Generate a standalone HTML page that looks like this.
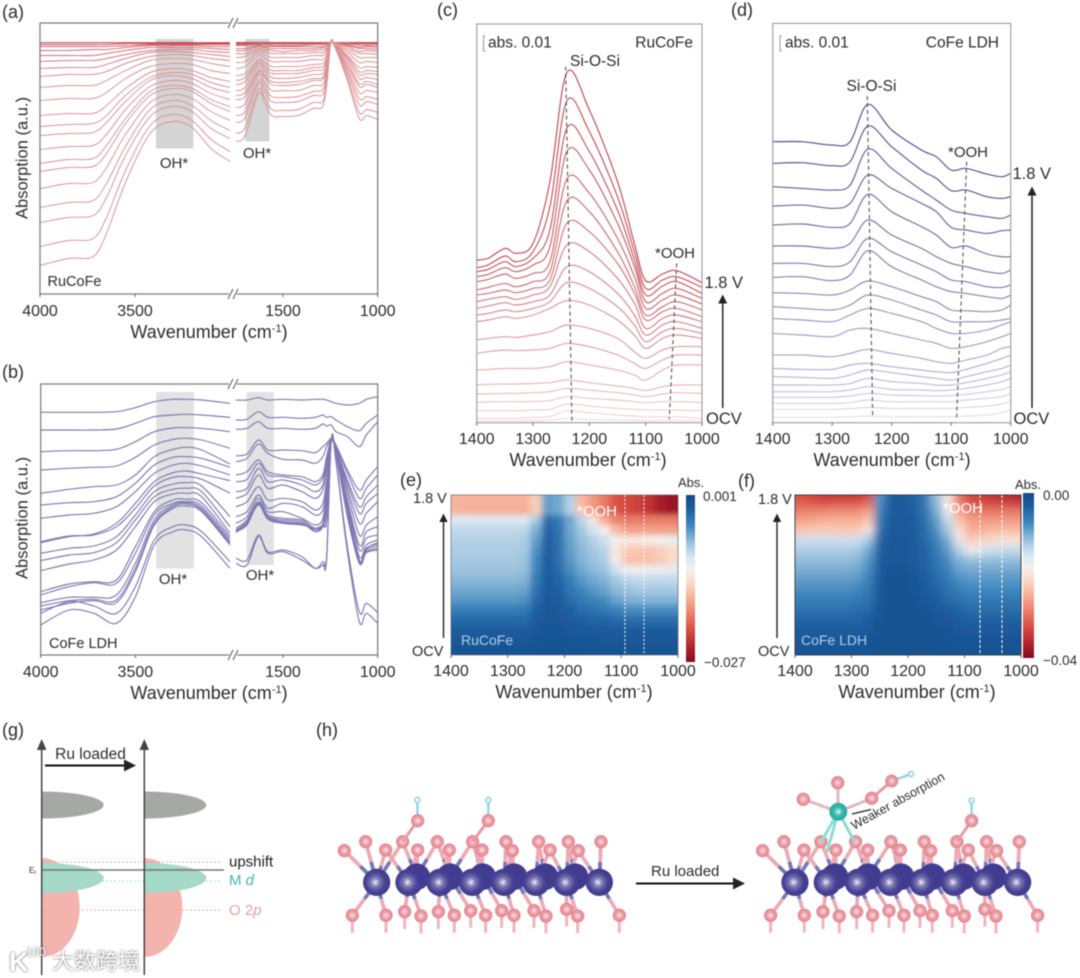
<!DOCTYPE html>
<html lang="en">
<head>
<meta charset="utf-8">
<title>FTIR spectra, heatmaps and band schematic of RuCoFe and CoFe LDH</title>
<style>
html,body{margin:0;padding:0;background:#fff}
#figure{display:block;filter:blur(.5px)}
text{font-family:"Liberation Sans","Noto Sans CJK SC",sans-serif;fill:#2c2c2c}
</style>
</head>
<body>
<svg id="figure" xmlns="http://www.w3.org/2000/svg" width="1080" height="978" viewBox="0 0 1080 978">
<defs>
  <filter id="heat-blur-e" x="-10%" y="-10%" width="120%" height="120%"><feGaussianBlur stdDeviation="3.4 2.8"/></filter>
  <filter id="heat-blur-f" x="-10%" y="-10%" width="120%" height="120%"><feGaussianBlur stdDeviation="4.2 4.6"/></filter>
  <clipPath id="clip-e"><rect x="451" y="495" width="227" height="160"/></clipPath>
  <clipPath id="clip-f"><rect x="795" y="495" width="226" height="160"/></clipPath>
  <radialGradient id="ball-grad" cx="45%" cy="50%" r="55%"><stop offset="0" stop-color="#eeeef6"/><stop offset=".3" stop-color="#7c78b4"/><stop offset=".65" stop-color="#474293"/><stop offset="1" stop-color="#3f3a8c"/></radialGradient>
  <radialGradient id="o-grad" cx="50%" cy="50%" r="55%"><stop offset="0" stop-color="#fbe9ea"/><stop offset=".45" stop-color="#ee9fa8"/><stop offset="1" stop-color="#df7f8c"/></radialGradient>
  <radialGradient id="ru-grad" cx="50%" cy="50%" r="55%"><stop offset="0" stop-color="#d8f4f0"/><stop offset=".45" stop-color="#33b9b0"/><stop offset="1" stop-color="#25a8a2"/></radialGradient>
  <marker id="arrow-head" markerWidth="7" markerHeight="7" refX="5" refY="3" orient="auto" markerUnits="strokeWidth"><path d="M0,0 L6,3 L0,6 Z" fill="#222"/></marker>
</defs>

<!-- panel (a) -->
<g id="panel-a">
  <text x="2" y="18" font-size="18">(a)</text>
  <g id="a-bands"></g>
  <g id="a-traces"></g>
  <rect x="40" y="23" width="337.7" height="271" fill="none" stroke="#777" stroke-width="1.2"/>
  <g id="a-break"></g>
  <g id="a-ticks"></g>
  <text x="174" y="168" font-size="15" text-anchor="middle">OH*</text>
  <text x="257" y="158" font-size="15" text-anchor="middle">OH*</text>
  <text x="47.5" y="286" font-size="14.5">RuCoFe</text>
  <text x="209" y="338" font-size="18" text-anchor="middle">Wavenumber (cm<tspan dy="-6" font-size="11">-1</tspan><tspan dy="6">)</tspan></text>
  <text transform="translate(27.5,158) rotate(-90)" font-size="16.5" text-anchor="middle">Absorption (a.u.)</text>
</g>

<!-- panel (b) -->
<g id="panel-b">
  <text x="2" y="378" font-size="18">(b)</text>
  <g id="b-bands"></g>
  <g id="b-traces"></g>
  <rect x="40.7" y="384" width="337" height="271" fill="none" stroke="#777" stroke-width="1.2"/>
  <g id="b-break"></g>
  <g id="b-ticks"></g>
  <text x="173" y="584" font-size="15" text-anchor="middle">OH*</text>
  <text x="260" y="580" font-size="15" text-anchor="middle">OH*</text>
  <text x="49" y="648" font-size="14.5">CoFe LDH</text>
  <text x="209" y="699" font-size="18" text-anchor="middle">Wavenumber (cm<tspan dy="-6" font-size="11">-1</tspan><tspan dy="6">)</tspan></text>
  <text transform="translate(27.5,518) rotate(-90)" font-size="16.5" text-anchor="middle">Absorption (a.u.)</text>
</g>

<!-- panel (c) -->
<g id="panel-c">
  <text x="437" y="16" font-size="18">(c)</text>
  <g id="c-traces"></g>
  <g id="c-guides"></g>
  <rect x="476.7" y="24" width="225.3" height="398.7" fill="none" stroke="#9a9a9a" stroke-width="1.1"/>
  <g id="c-ticks"></g>
  <path d="M485.5,36 H483.5 V51 H485.5" fill="none" stroke="#999"/>
  <text x="488" y="47.5" font-size="15.5">abs. 0.01</text>
  <text x="693" y="47.5" font-size="15.5" text-anchor="end">RuCoFe</text>
  <text x="570" y="66" font-size="15.5">Si-O-Si</text>
  <text x="655" y="258" font-size="15">*OOH</text>
  <text x="704.5" y="288" font-size="16.5">1.8 V</text>
  <text x="706" y="424" font-size="16.5">OCV</text>
  <line x1="722.7" y1="408" x2="722.7" y2="296" stroke="#222" stroke-width="1.5" marker-end="url(#arrow-head)"/>
  <text x="588" y="466" font-size="18" text-anchor="middle">Wavenumber (cm<tspan dy="-6" font-size="11">-1</tspan><tspan dy="6">)</tspan></text>
</g>

<!-- panel (d) -->
<g id="panel-d">
  <text x="731" y="16" font-size="18">(d)</text>
  <g id="d-traces"></g>
  <g id="d-guides"></g>
  <rect x="772.7" y="23.4" width="238" height="399.3" fill="none" stroke="#9a9a9a" stroke-width="1.1"/>
  <g id="d-ticks"></g>
  <path d="M782,36 H780 V51 H782" fill="none" stroke="#999"/>
  <text x="785" y="47.5" font-size="15.5">abs. 0.01</text>
  <text x="999" y="47.5" font-size="15.5" text-anchor="end">CoFe LDH</text>
  <text x="846.5" y="91" font-size="15.5">Si-O-Si</text>
  <text x="948" y="157" font-size="15">*OOH</text>
  <text x="1012.5" y="179" font-size="16.5">1.8 V</text>
  <text x="1013.5" y="424" font-size="16.5">OCV</text>
  <line x1="1032" y1="408" x2="1032" y2="188" stroke="#222" stroke-width="1.5" marker-end="url(#arrow-head)"/>
  <text x="892" y="466" font-size="18" text-anchor="middle">Wavenumber (cm<tspan dy="-6" font-size="11">-1</tspan><tspan dy="6">)</tspan></text>
</g>

<!-- panel (e) -->
<g id="panel-e">
  <text x="400" y="486" font-size="18">(e)</text>
  <g clip-path="url(#clip-e)"><g id="e-cells" filter="url(#heat-blur-e)"></g></g>
  <line x1="625" y1="495" x2="625" y2="655" stroke="#fff" stroke-dasharray="2 2"/>
  <line x1="644" y1="495" x2="644" y2="655" stroke="#fff" stroke-dasharray="2 2"/>
  <rect x="451" y="495" width="227" height="160" fill="none" stroke="#556" stroke-width=".6"/>
  <text x="577" y="516" font-size="15" style="fill:#fff">*OOH</text>
  <text x="461" y="645" font-size="14" style="fill:#a9cfe8">RuCoFe</text>
  <g id="e-ticks"></g>
  <g id="e-bar"></g>
  <text x="678" y="487" font-size="13">Abs.</text>
  <text x="703" y="501" font-size="13.5">0.001</text>
  <text x="704" y="667" font-size="13.5">−0.027</text>
  <text x="413" y="503" font-size="14.5">1.8 V</text>
  <text x="412" y="656" font-size="14.5">OCV</text>
  <line x1="443.5" y1="638" x2="443.5" y2="515" stroke="#222" stroke-width="1.4" marker-end="url(#arrow-head)"/>
  <text x="574" y="698" font-size="18" text-anchor="middle">Wavenumber (cm<tspan dy="-6" font-size="11">-1</tspan><tspan dy="6">)</tspan></text>
</g>

<!-- panel (f) -->
<g id="panel-f">
  <text x="738" y="487" font-size="18">(f)</text>
  <g clip-path="url(#clip-f)"><g id="f-cells" filter="url(#heat-blur-f)"></g></g>
  <line x1="980" y1="495" x2="980" y2="655" stroke="#fff" stroke-dasharray="3 2"/>
  <line x1="1002" y1="495" x2="1002" y2="655" stroke="#fff" stroke-dasharray="3 2"/>
  <rect x="795" y="495" width="226" height="160" fill="none" stroke="#334" stroke-width=".9"/>
  <text x="943" y="513" font-size="15" style="fill:#fff">*OOH</text>
  <text x="801" y="645" font-size="14" style="fill:#a9cfe8">CoFe LDH</text>
  <g id="f-ticks"></g>
  <g id="f-bar"></g>
  <text x="1015" y="489" font-size="13">Abs.</text>
  <text x="1043" y="500" font-size="13.5">0.00</text>
  <text x="1043" y="665" font-size="13.5">−0.04</text>
  <text x="758" y="504" font-size="14.5">1.8 V</text>
  <text x="758" y="656" font-size="14.5">OCV</text>
  <line x1="777" y1="638" x2="777" y2="515" stroke="#222" stroke-width="1.4" marker-end="url(#arrow-head)"/>
  <text x="917" y="698" font-size="18" text-anchor="middle">Wavenumber (cm<tspan dy="-6" font-size="11">-1</tspan><tspan dy="6">)</tspan></text>
</g>

<!-- panel (g) -->
<g id="panel-g">
  <text x="2" y="736" font-size="18">(g)</text>
  <path d="M41.7,858 A38,49.5 0 0 1 41.7,957 Z" fill="#f3b4ad"/>
  <path d="M144.3,858 A38,49.5 0 0 1 144.3,957 Z" fill="#f3b4ad"/>
  <path d="M41.7,791.5 A62,13.5 0 0 1 41.7,818.5 Z" fill="#a4a9a6"/>
  <path d="M144.3,791.5 A62,13.5 0 0 1 144.3,818.5 Z" fill="#a4a9a6"/>
  <path d="M41.7,863 A62,15 0 0 1 41.7,893 Z" fill="#a5d9c8"/>
  <path d="M144.3,863 A62,15 0 0 1 144.3,893 Z" fill="#a5d9c8"/>
  <line x1="42" y1="862" x2="222" y2="862" stroke="#e6a8a4" stroke-dasharray="2 2"/>
  <line x1="42" y1="881" x2="222" y2="881" stroke="#a5dcd2" stroke-dasharray="2 2"/>
  <line x1="42" y1="910" x2="222" y2="910" stroke="#eda8a2" stroke-dasharray="2 2"/>
  <line x1="41.7" y1="870" x2="224" y2="870" stroke="#777" stroke-width="1.4"/>
  <line x1="41.7" y1="975" x2="41.7" y2="745" stroke="#444" stroke-width="1.5"/>
  <line x1="144.3" y1="975" x2="144.3" y2="745" stroke="#444" stroke-width="1.5"/>
  <path d="M41.7,739 L46.5,750 L36.9,750 Z" fill="#444"/>
  <path d="M144.3,739 L149,750 L139.5,750 Z" fill="#444"/>
  <text x="90.5" y="759" font-size="15.5" text-anchor="middle">Ru loaded</text>
  <line x1="45" y1="765.5" x2="134" y2="765.5" stroke="#111" stroke-width="2" marker-end="url(#arrow-head)"/>
  <text x="29" y="873" font-size="8">E<tspan font-size="5" dy="1.5">f</tspan></text>
  <text x="229" y="866.5" font-size="15" style="fill:#222">upshift</text>
  <text x="229" y="885" font-size="15" style="fill:#40b8ac">M <tspan font-style="italic">d</tspan></text>
  <text x="229" y="915" font-size="15" style="fill:#e8a09a">O 2<tspan font-style="italic">p</tspan></text>
</g>

<!-- panel (h) -->
<g id="panel-h">
  <text x="316" y="736" font-size="18">(h)</text>
  <g id="mol-left" transform="translate(310,760) scale(.3333)"></g>
  <g id="mol-right" transform="translate(728.3,760) scale(.3333)"></g>
  <g id="ru-site"></g>
  <text x="651" y="876" font-size="15">Ru loaded</text>
  <line x1="636" y1="883.5" x2="743" y2="883.5" stroke="#111" stroke-width="2" marker-end="url(#arrow-head)"/>
  <text transform="translate(854,830) rotate(-29)" font-size="12.5">Weaker absorption</text>
  <line x1="852" y1="814" x2="871" y2="809.5" stroke="#222" stroke-width="1.3"/>
</g>

<!-- watermark -->
<g id="watermark" style="filter:drop-shadow(0 0 1.4px #555)">
  <text x="9" y="971" font-size="27" font-weight="bold" style="fill:#fff">K</text>
  <text x="26" y="956" font-size="12" style="fill:#fff">100</text>
  <text x="52" y="969" font-size="22" style="fill:#fff;font-family:'Liberation Sans','Noto Sans CJK SC',sans-serif">大数跨境</text>
</g>
</svg>

<script>
// ---------- Panel (a): RuCoFe wide-range spectra (depth below the 0 baseline, a.u.) ----------
const wavenumbersWideLeft = [4000,3850,3720,3650,3550,3420,3300,3200,3100,3000];
const wavenumbersARight = [1748,1700,1630,1600,1560,1500,1420,1340,1290,1268,1248,1230,1160,1097,1058,1000];
const seriesA = [
 [.2,.2,.2,.2,.2,.2,.2,.2,.2,.2, .1,.1,.1,.1,.1,.1,.1,.1,.1,.1,0,0,.1,.1,.1,.1],
 [2,2,2,2,1,1,1,1,1,1, 1,1,.5,.6,.7,.7,.7,.7,.6,.4,0,0,.4,.8,.7,.8],
 [4,4,4,4,3,2,2,2,2,2, 2,2,1,1,1.5,1.5,1.5,1.3,1.3,.8,0,0,.8,1.5,1.5,1.5],
 [8,8,7,7,5,3,3,3,4,4, 3,3,2,2,3,3,3,2,2,1,0,0,1,3,3,3],
 [13,13,13,11,8,5,5,5,6,7, 6,6,3,4,4,4,4,4,4,2,0,0,2,5,4,5],
 [19,18,18,16,12,8,7,7,9,10, 8,8,4,5,6,6,6,6,5,3,0,0,3,6,6,7],
 [26,25,25,22,16,10,9,10,12,14, 11,11,6,7,8,9,8,8,7,5,0,0,4,9,8,9],
 [34,32,32,29,21,14,12,13,16,18, 15,14,8,9,11,11,11,10,10,6,0,0,6,11,11,12],
 [45,43,43,38,28,18,16,17,21,24, 20,19,10,12,15,15,15,13,13,8,0,1,8,15,15,15],
 [58,56,56,50,36,24,21,22,28,31, 26,24,13,15,19,19,19,17,17,11,0,1,10,20,19,20],
 [73,71,71,63,46,30,26,28,35,39, 33,31,17,19,24,24,24,22,21,14,0,1,13,25,24,25],
 [84,82,81,73,53,35,30,32,40,45, 38,35,19,22,28,28,28,25,24,16,0,1,14,29,28,29],
 [93,91,90,80,59,38,33,36,45,50, 42,39,21,25,31,31,31,28,27,17,0,1,16,32,31,32],
 [107,104,103,92,67,44,38,41,51,57, 48,45,24,28,35,36,35,32,31,20,0,1,18,36,35,37],
 [121,117,116,103,76,49,43,46,57,64, 53,50,28,32,39,40,39,36,35,22,0,2,21,41,39,42],
 [129,125,124,111,81,53,46,49,61,69, 57,54,30,34,42,43,42,38,37,24,0,2,22,44,42,45],
 [146,141,140,125,92,60,52,56,69,78, 65,61,33,39,48,48,48,43,42,27,0,2,25,50,48,50],
 [165,160,158,141,104,67,58,63,78,88, 73,69,38,44,54,55,54,49,47,30,0,2,28,56,54,57],
 [180,175,173,155,113,74,64,69,86,96, 80,75,41,48,59,60,59,53,52,33,0,2,31,62,59,62],
 [204,198,196,175,128,83,72,78,97,109, 91,85,47,54,67,68,67,60,59,38,0,3,35,70,67,70],
 [223,216,214,191,140,91,79,85,106,119, 99,93,51,59,73,74,73,66,64,41,0,3,38,76,73,77]
];

// ---------- Panel (b): CoFe LDH wide-range spectra ----------
const wavenumbersBLeft = [4000,3850,3720,3600,3500,3400,3300,3230,3150,3000];
const wavenumbersBRight = [1748,1690,1630,1580,1500,1400,1330,1290,1270,1245,1220,1160,1097,1060,1000];
const seriesB = [
 [157,157,157,155,143,125,118,118,120,130, 120,120,113,120,118,120,118,118,120,125,130,135,130,118,110],
 [210,210,210,207,190,170,165,163,165,172, 180,178,155,172,172,175,172,165,172,170,180,200,212,190,165],
 [275,272,272,268,245,215,204,203,205,215, 208,205,185,205,205,208,205,192,198,195,215,230,260,225,185],
 [330,325,322,318,292,255,238,235,240,265, 287,282,240,270,270,272,278,260,250,235,255,330,390,360,320],
 [400,388,380,375,345,290,268,262,270,312, 305,295,252,280,298,300,310,290,260,240,262,340,415,385,345],
 [435,428,425,410,370,315,292,290,295,322, 345,335,300,335,345,350,365,345,290,240,265,360,440,410,375],
 [475,465,460,440,395,340,315,310,318,345, 365,358,310,345,350,360,375,355,300,240,268,370,460,430,400],
 [548,530,522,490,430,365,338,333,342,362, 395,385,325,365,360,375,395,375,310,240,270,385,490,460,425],
 [545,528,525,500,445,378,352,350,358,400, 415,400,345,385,375,395,415,390,330,240,272,400,525,495,470],
 [580,565,558,530,465,395,372,368,378,470, 440,425,380,420,415,425,450,430,360,240,275,420,555,515,500],
 [602,585,578,548,480,410,388,385,395,500, 470,455,405,445,430,440,465,450,380,240,275,430,570,535,525],
 [632,612,600,570,500,425,402,400,410,520, 490,470,415,455,455,475,495,475,390,240,275,440,590,555,540],
 [695,672,665,660,560,455,420,418,428,530, 505,480,425,465,475,480,505,490,400,240,278,450,600,565,548],
 [705,680,668,670,580,465,430,425,438,538, 510,485,430,470,480,485,510,495,410,240,278,455,605,565,552],
 [728,712,712,705,610,480,435,428,445,545, 512,490,430,472,485,490,515,500,440,240,278,460,610,570,558],
 [738,722,718,720,625,490,440,432,450,550, 515,495,432,475,488,492,510,500,470,240,280,465,610,575,565],
 [750,730,722,728,635,495,445,438,455,555, 518,490,435,478,490,495,505,495,480,240,282,470,610,578,570],
 [760,725,738,760,680,540,500,495,515,605, 595,600,525,575,570,590,625,605,590,240,300,560,755,730,758],
 [795,750,760,790,710,555,515,510,530,625, 610,615,530,580,575,600,625,615,600,240,305,575,785,760,790]
];

// ---------- Panel (c): RuCoFe 1400–1000 cm-1, trace offset included ----------
const wavenumbersC = [1400,1380,1350,1330,1300,1270,1240,1200,1150,1120,1100,1070,1045,1000];
const seriesC = [
 [780,775,745,760,730,545,218,330,545,730,842,822,812,848],
 [803,795,768,785,755,620,303,395,590,755,865,840,830,862],
 [815,808,785,800,775,690,385,455,630,780,885,858,845,880],
 [830,823,803,815,795,740,455,510,670,800,905,880,865,895],
 [845,838,822,835,820,785,537,580,715,830,925,900,885,912],
 [870,862,850,860,845,815,603,635,755,860,945,920,905,930],
 [885,880,870,878,865,840,670,695,790,880,960,935,925,950],
 [905,898,890,898,885,860,735,755,835,910,985,955,945,965],
 [925,918,908,915,905,885,800,815,880,945,1005,975,965,985],
 [945,940,930,935,925,905,848,865,920,975,1025,995,985,1000],
 [965,960,950,955,945,925,902,915,960,1005,1045,1015,1005,1015],
 [1020,1015,1010,1012,1005,995,975,985,1015,1055,1075,1050,1040,1040],
 [1060,1055,1050,1052,1050,1045,1030,1040,1065,1090,1105,1080,1065,1065],
 [1110,1108,1105,1105,1105,1100,1085,1095,1110,1125,1140,1110,1095,1095],
 [1155,1153,1152,1152,1150,1148,1140,1148,1158,1165,1172,1160,1155,1155],
 [1182,1181,1180,1180,1178,1175,1165,1170,1178,1185,1190,1182,1178,1180],
 [1207,1206,1205,1205,1204,1202,1190,1195,1200,1205,1208,1205,1205,1207],
 [1232,1232,1232,1232,1230,1228,1212,1218,1225,1228,1230,1230,1230,1232],
 [1255,1255,1255,1255,1252,1250,1232,1238,1245,1248,1250,1250,1250,1255],
 [1262,1262,1262,1262,1262,1260,1255,1258,1260,1260,1262,1262,1262,1262]
];
const guideSiOSiC = [[1242,200],[1231,1262]];
const guideOohC = [[1045,790],[1058,1258]];

// ---------- Panel (d): CoFe LDH 1400–1000 cm-1 ----------
const wavenumbersD = [1400,1350,1300,1270,1240,1200,1150,1125,1100,1075,1040,1015,1000];
const seriesD = [
 [425,425,435,425,313,390,450,470,510,505,522,530,520],
 [490,488,497,485,378,440,510,535,572,570,590,595,590],
 [560,565,570,555,447,505,570,600,630,640,650,655,645],
 [618,615,625,610,525,565,610,635,682,690,700,692,690],
 [675,672,682,670,583,635,680,705,742,738,762,770,770],
 [738,738,745,730,660,705,745,770,790,800,815,820,810],
 [790,790,800,785,715,755,795,815,840,845,860,862,855],
 [832,830,842,825,752,800,840,860,875,880,890,895,885],
 [878,880,885,870,843,860,890,905,930,932,935,930,915],
 [920,925,930,915,885,900,930,945,965,965,965,960,955],
 [955,960,965,945,925,940,965,985,1000,1000,990,975,965],
 [1000,1005,1010,990,985,1000,1020,1030,1045,1040,1025,1010,1000],
 [1065,1065,1070,1060,1048,1060,1075,1085,1090,1080,1065,1045,1040],
 [1105,1108,1108,1095,1090,1100,1110,1115,1118,1108,1090,1075,1065],
 [1130,1132,1135,1125,1110,1118,1130,1135,1140,1130,1115,1105,1095],
 [1155,1155,1155,1150,1135,1145,1150,1155,1155,1148,1135,1125,1115],
 [1175,1175,1175,1170,1160,1168,1170,1172,1170,1165,1155,1145,1135],
 [1192,1192,1192,1188,1180,1185,1187,1188,1187,1183,1175,1168,1160],
 [1210,1210,1210,1208,1200,1205,1205,1205,1205,1200,1195,1190,1180],
 [1228,1228,1228,1226,1222,1225,1225,1225,1225,1222,1218,1212,1205],
 [1252,1252,1252,1250,1248,1250,1250,1250,1250,1248,1245,1238,1230]
];
const guideSiOSiD = [[1241,288],[1232,1248]];
const guideOohD = [[1074,485],[1091,1255]];

// ---------- Tick labels ----------
const wideTickLeft = [4000,3500];
const wideTickRight = [1500,1000];
const zoomTicks = [1400,1300,1200,1100,1000];

// ---------- Panels (e)/(f): heat values, % of colour-bar range from top (0) to bottom (100) ----------
const heatWavenumbers = [1390,1370,1350,1330,1310,1290,1270,1250,1230,1210,1190,1170,1150,1130,1110,1090,1070,1050,1030,1010];
const heatE = [
 [61,61,61,61,61,61,61,55,22,24,32,60,66,72,80,82,84,88,94,96],
 [61,62,62,62,62,62,62,55,22,24,32,58,66,72,80,82,84,88,94,95],
 [38,38,38,38,38,38,38,30,12,15,24,33,48,62,70,72,72,72,72,72],
 [34,34,34,34,34,34,33,25,10,14,24,30,37,46,60,65,65,65,65,65],
 [32,32,32,32,32,32,31,22,9,13,23,28,32,36,44,48,47,46,44,42],
 [31,31,31,31,31,31,30,20,8,13,22,27,30,33,48,56,57,57,55,52],
 [30,30,30,30,30,30,29,18,8,13,21,26,29,31,46,58,59,58,56,52],
 [29,29,29,29,29,29,28,17,8,12,19,24,27,29,36,42,43,42,42,40],
 [27,27,27,27,27,27,26,15,7,10,16,21,24,26,30,33,34,34,34,34],
 [24,24,24,24,24,24,23,13,7,9,14,18,21,23,27,29,30,30,30,30],
 [21,21,21,21,21,21,20,11,6,8,12,15,17,19,23,25,26,26,26,26],
 [16,16,16,16,16,16,15,9,6,7,9,12,13,15,17,19,19,19,19,19],
 [11,11,11,11,11,11,11,8,6,6,8,9,10,10,11,12,12,12,12,12],
 [8,8,8,8,8,8,8,6,5,5,6,7,7,8,8,8,8,8,8,8],
 [6,6,6,6,6,6,6,5,4,4,5,5,5,6,6,6,6,6,6,6],
 [5,5,5,5,5,5,5,4,4,4,4,4,5,5,5,5,5,5,5,5]
];
const heatF = [
 [80,82,84,84,84,84,80,20,7,7,10,15,28,48,72,82,84,86,88,90],
 [72,72,72,70,70,70,66,18,7,7,9,14,25,42,65,72,74,74,74,74],
 [65,64,62,62,62,62,58,15,7,7,8,13,22,35,58,65,66,66,66,66],
 [58,56,56,56,57,56,48,13,7,7,8,12,20,30,50,62,62,60,60,60],
 [36,36,36,36,36,36,30,10,6,6,7,11,17,25,40,56,54,52,50,50],
 [31,31,31,31,31,30,24,9,6,6,7,10,15,22,32,44,38,36,35,35],
 [28,28,28,28,28,27,21,8,6,6,7,10,14,19,26,28,28,28,28,28],
 [25,25,25,25,25,24,19,7,5,5,6,9,13,17,23,24,24,24,24,24],
 [22,22,22,22,22,21,17,7,4,4,5,8,11,15,19,21,21,21,21,21],
 [19,19,19,19,19,18,15,6,4,4,5,7,10,13,16,18,18,18,18,18],
 [16,16,16,16,16,15,13,6,4,4,4,6,8,11,13,15,15,15,15,15],
 [13,13,13,13,13,12,11,5,4,4,4,5,6,8,10,12,12,12,12,12],
 [10,10,10,10,10,10,8,5,4,4,4,4,5,6,8,9,9,9,9,9],
 [8,8,8,8,8,8,7,4,4,4,4,4,4,5,6,7,7,7,7,7],
 [6,6,6,6,6,6,5,4,3,3,3,4,4,4,5,5,5,5,5,5],
 [5,5,5,5,5,5,5,4,3,3,3,3,4,4,4,4,4,4,4,4]
];
const colorStops = [0,8,18,30,38,45,52,60,70,82,92,100];
const colorValues = ['#134a87','#1c5c9e','#3d86bd','#a5c9e2','#dce8f2','#f4f0ee','#fbdccb','#f9b9a0','#ee8670','#d4483f','#b0202c','#7e0d1e'];

// ---------- helpers ----------
const NS = 'http://www.w3.org/2000/svg';
function add(parent, tag, attrs) {
  const el = document.createElementNS(NS, tag);
  for (const k in attrs) el.setAttribute(k, attrs[k]);
  parent.appendChild(el);
  return el;
}
function linear(d0, d1, r0, r1) { return v => r0 + (v - d0) * (r1 - r0) / (d1 - d0); }
function smoothPath(pts) {
  let d = 'M' + pts[0][0].toFixed(1) + ',' + pts[0][1].toFixed(1);
  for (let i = 0; i < pts.length - 1; i++) {
    const p0 = pts[Math.max(0, i - 1)], p1 = pts[i], p2 = pts[i + 1], p3 = pts[Math.min(pts.length - 1, i + 2)];
    d += 'C' + (p1[0] + (p2[0] - p0[0]) / 6).toFixed(1) + ',' + (p1[1] + (p2[1] - p0[1]) / 6).toFixed(1) + ' ' +
      (p2[0] - (p3[0] - p1[0]) / 6).toFixed(1) + ',' + (p2[1] - (p3[1] - p1[1]) / 6).toFixed(1) + ' ' +
      p2[0].toFixed(1) + ',' + p2[1].toFixed(1);
  }
  return d;
}
function mix(a, b, t) {
  const pa = [1, 3, 5].map(i => parseInt(a.substr(i, 2), 16)), pb = [1, 3, 5].map(i => parseInt(b.substr(i, 2), 16));
  return 'rgb(' + pa.map((c, i) => Math.round(c + (pb[i] - c) * t)).join(',') + ')';
}
function colorFor(v) {
  for (let i = 0; i < colorStops.length - 1; i++) {
    if (v <= colorStops[i + 1]) return mix(colorValues[i], colorValues[i + 1], (v - colorStops[i]) / (colorStops[i + 1] - colorStops[i]));
  }
  return colorValues[colorValues.length - 1];
}
function tick(group, x, yAxis, label, yText) {
  const t = add(group, 'line', {x1: x, x2: x, y1: yAxis, y2: yAxis + 3, stroke: '#666'});
  
  
  const l = add(group, 'text', {x: x, y: yText, 'font-size': 16, 'text-anchor': 'middle'});
  l.textContent = label;
  
  
}
function grayBand(group, x0, x1, y0, y1, fill) {
  const r = add(group, 'rect', {x: x0, y: y0, width: x1 - x0, height: y1 - y0, fill: fill});
  
  
}
function axisBreak(group, xc, yTop, yBottom) {
  [yTop, yBottom].forEach(y => {
    const w = add(group, 'rect', {x: xc - 4, y: y - 2, width: 8, height: 4, fill: '#fff'});
    
    
    [-3, 2].forEach(dx => {
      const s = add(group, 'line', {x1: xc + dx - 2, y1: y + 5, x2: xc + dx + 3, y2: y - 5, stroke: '#555', 'stroke-width': 1});
      
      
    });
  });
}

// ---------- wide panels ----------
function drawWide(id, series, wL, wR, xL, xR, y, strokeFor, width) {
  const g = document.getElementById(id + '-traces');
  series.forEach((row, i) => {
    const left = row.slice(0, wL.length).map((v, j) => [xL(wL[j]), y(v)]);
    const right = row.slice(wL.length).map((v, j) => [xR(wR[j]), y(v)]);
    const p = add(g, 'path', {d: smoothPath(left) + smoothPath(right), fill: 'none', stroke: strokeFor(i), 'stroke-width': width});
    
    
  });
}
const xAL = linear(4000, 3000, 40, 230), xAR = linear(1748, 1000, 236, 377.7), yA = linear(0, 251.5, 42.5, 294);
const aBands = document.getElementById('a-bands');
grayBand(aBands, xAL(3390), xAL(3193), 39, 148.5, '#d4d4d4');
grayBand(aBands, xAR(1700), xAR(1572), 39, 141.5, '#d4d4d4');
drawWide('a', seriesA, wavenumbersWideLeft, wavenumbersARight, xAL, xAR, yA, i => (i === 0 ? '#b8222c' : mix('#c8505a', '#dc9195', Math.min(1, i / 8))), .95);
axisBreak(document.getElementById('a-break'), 233, 23, 294);
wideTickLeft.forEach(w => tick(document.getElementById('a-ticks'), xAL(w), 294, String(w), 316));
wideTickRight.forEach(w => tick(document.getElementById('a-ticks'), xAR(w), 294, String(w), 316));

const xBL = linear(4000, 3000, 40.7, 230), xBR = linear(1748, 1000, 236, 377.7), yB = linear(72, 885, 384, 655);
const bBands = document.getElementById('b-bands');
grayBand(bBands, xBL(3390), xBL(3190), 392, 568.5, '#e2e2e2');
grayBand(bBands, xBR(1692), xBR(1548), 392, 565, '#e2e2e2');
drawWide('b', seriesB, wavenumbersBLeft, wavenumbersBRight, xBL, xBR, yB, () => '#7f79b3', 1.15);
axisBreak(document.getElementById('b-break'), 233, 384, 655);
wideTickLeft.forEach(w => tick(document.getElementById('b-ticks'), xBL(w), 655, String(w), 677));
wideTickRight.forEach(w => tick(document.getElementById('b-ticks'), xBR(w), 655, String(w), 677));

// ---------- zoom panels ----------
function drawZoom(id, series, wn, x, y, dark, light, guides, yAxis) {
  const g = document.getElementById(id + '-traces');
  const n = series.length;
  series.forEach((row, i) => {
    const pts = row.map((v, j) => [x(wn[j]), y(v)]);
    const p = add(g, 'path', {d: smoothPath(pts), fill: 'none', stroke: mix(dark, light, i / (n - 1)), 'stroke-width': 1.15});
    
    
  });
  const gg = document.getElementById(id + '-guides');
  guides.forEach(gd => {
    const l = add(gg, 'line', {x1: x(gd[0][0]), y1: y(gd[0][1]), x2: x(gd[1][0]), y2: y(gd[1][1]), stroke: '#555', 'stroke-width': 1.1, 'stroke-dasharray': '4 3'});
    
    
  });
  zoomTicks.forEach(w => tick(document.getElementById(id + '-ticks'), x(w), yAxis, String(w), 444));
}
const xC = linear(1400, 1000, 476.7, 702), yC = linear(72, 1268, 24, 422.7);
drawZoom('c', seriesC, wavenumbersC, xC, yC, '#c24a52', '#f6dcdc', [guideSiOSiC, guideOohC], 422.7);
const xD = linear(1400, 1000, 772.7, 1010.7), yD = linear(70, 1268, 23.4, 422.7);
drawZoom('d', seriesD, wavenumbersD, xD, yD, '#55508f', '#e2e0f0', [guideSiOSiD, guideOohD], 422.7);

// ---------- heatmaps ----------
function drawHeat(id, matrix, x0, x1, y0, y1, bar) {
  const g = document.getElementById(id + '-cells');
  const x = linear(1400, 1000, x0, x1);
  const rows = matrix.length;
  const y = linear(0, rows, y0, y1);
  const hw = 10;
  matrix.forEach((row, r) => {
    row.forEach((v, c) => {
      const w = heatWavenumbers[c];
      let xa = x(w + hw), xb = x(w - hw), ya = y(r), yb = y(r + 1);
      if (c === 0) xa -= 15;
      if (c === row.length - 1) xb += 15;
      if (r === 0) ya -= 15;
      if (r === rows - 1) yb += 15;
      const cell = add(g, 'rect', {x: xa.toFixed(2), y: ya.toFixed(2), width: (xb - xa + .6).toFixed(2), height: (yb - ya + .6).toFixed(2), fill: colorFor(v)});
      
      
    });
  });
  zoomTicks.forEach(w => tick(document.getElementById(id + '-ticks'), x(w), y1, String(w), 676));
  const defs = document.querySelector('defs');
  const grad = add(defs, 'linearGradient', {id: id + '-bar-grad', x1: 0, y1: 0, x2: 0, y2: 1});
  colorStops.forEach((s, i) => add(grad, 'stop', {offset: s + '%', 'stop-color': colorValues[i]}));
  const b = add(document.getElementById(id + '-bar'), 'rect', {x: bar[0], y: bar[1], width: bar[2], height: bar[3], fill: 'url(#' + id + '-bar-grad)'});
  
  
}
drawHeat('e', heatE, 451, 678, 495, 655, [686, 495, 9, 167]);
drawHeat('f', heatF, 795, 1021, 495, 655, [1023, 493, 11, 165]);

// ---------- structure schematic ----------
const frontBalls = [[200,367],[297,367],[390,367],[487,367],[583,367],[678,367],[770,367],[868,367]];
const backBalls = [[320,350],[420,350],[518,350],[612,350],[705,350],[795,350]];
const topOxygens = [[103,272],[167,245],[227,270],[278,245],[323,270],[382,245],[418,270],[488,245],[516,270],[588,245],[607,272],[686,245],[720,270],[775,245],[805,272],[873,245]];
const bottomOxygens = [[127,466],[228,466],[284,455],[333,468],[385,455],[433,466],[482,452],[527,466],[575,452],[612,466],[672,452],[708,468],[770,448],[803,468],[928,466]];
function nearest(o, list) {
  let best = list[0], dist = 1e9;
  list.forEach(b => { const d = Math.hypot(b[0] - o[0], b[1] - o[1]); if (d < dist) { dist = d; best = b; } });
  return best;
}
function bond(g, a, b, colorA, colorB, w) {
  const mx = (a[0] + b[0]) / 2, my = (a[1] + b[1]) / 2;
  const l1 = add(g, 'line', {x1: a[0], y1: a[1], x2: mx, y2: my, stroke: colorA, 'stroke-width': w});
  
  
  const l2 = add(g, 'line', {x1: mx, y1: my, x2: b[0], y2: b[1], stroke: colorB, 'stroke-width': w});
  
  
}
function atom(g, p, r, fill, name) {
  const c = add(g, 'circle', {cx: p[0], cy: p[1], r: r, fill: fill});
  
  
}
function hydrogen(g, p) {
  const c = add(g, 'circle', {cx: p[0], cy: p[1], r: 8, fill: '#e8f6fb', stroke: '#8fd2e6', 'stroke-width': 4});
  
  
}
function molecule(id, hydroxyls) {
  const g = document.getElementById(id);
  const all = frontBalls.concat(backBalls);
  topOxygens.forEach(o => bond(g, o, nearest([o[0] + 30, o[1] + 90], all), '#eeaab2', '#7478b8', 11));
  topOxygens.forEach(o => bond(g, o, nearest([o[0] - 30, o[1] + 90], all), '#eeaab2', '#7478b8', 11));
  bottomOxygens.forEach(o => {
    bond(g, o, nearest([o[0] - 30, o[1] - 90], all), '#eeaab2', '#7478b8', 11);
    const s = add(g, 'line', {x1: o[0], y1: o[1], x2: o[0], y2: o[1] + 52, stroke: '#f0b6bc', 'stroke-width': 9});
    
    
  });
  backBalls.forEach(p => atom(g, p, 40, '#413c90', 'metal-atom-back'));
  frontBalls.forEach(p => atom(g, p, 41, 'url(#ball-grad)', 'metal-atom'));
  topOxygens.forEach(p => atom(g, p, 20, 'url(#o-grad)', 'oxygen-atom'));
  bottomOxygens.forEach(p => atom(g, p, 20, 'url(#o-grad)', 'oxygen-atom'));
  hydroxyls.forEach(h => {
    bond(g, h[0], h[1], '#e89aa5', '#e89aa5', 9);
    bond(g, h[1], h[2], '#8fd2e6', '#8fd2e6', 7);
    atom(g, h[1], 20, 'url(#o-grad)', 'oxygen-atom');
    hydrogen(g, h[2]);
  });
}
molecule('mol-left', [[[278,245],[323,182],[322,120]], [[488,245],[535,182],[535,120]]]);
molecule('mol-right', [[[686,245],[730,182],[730,122]]]);

const ruCenter = [838.3,811.7];
const ruOxygens = [[837.7,782.7],[803.3,799.3],[871.7,798.3]];
const ruLegs = [[820.7,842.7],[855,842.7],[827,852]];
(function drawRu() {
  const g = document.getElementById('ru-site');
  ruLegs.forEach(p => {
    const l = add(g, 'line', {x1: ruCenter[0], y1: ruCenter[1], x2: p[0], y2: p[1], stroke: '#8fdcd4', 'stroke-width': 3});
    
    
  });
  ruOxygens.forEach(p => {
    const l = add(g, 'line', {x1: ruCenter[0], y1: ruCenter[1], x2: p[0], y2: p[1], stroke: '#e5b8bf', 'stroke-width': 3});
    
    
  });
  const oo = add(g, 'line', {x1: 871.7, y1: 798.3, x2: 891.7, y2: 781, stroke: '#e89aa5', 'stroke-width': 3});
  
  
  const oh = add(g, 'line', {x1: 891.7, y1: 781, x2: 911, y2: 774, stroke: '#8fd2e6', 'stroke-width': 2.5});
  
  
  ruOxygens.forEach(p => atom(g, p, 6.7, 'url(#o-grad)', 'oxygen-atom'));
  atom(g, [891.7,781], 6.5, 'url(#o-grad)', 'oxygen-atom');
  const h = add(g, 'circle', {cx: 911, cy: 774, r: 2.6, fill: '#e8f6fb', stroke: '#8fd2e6', 'stroke-width': 1.4});
  
  
  atom(g, ruCenter, 9, 'url(#ru-grad)', 'ru-atom');
})();
</script>
</body>
</html>
